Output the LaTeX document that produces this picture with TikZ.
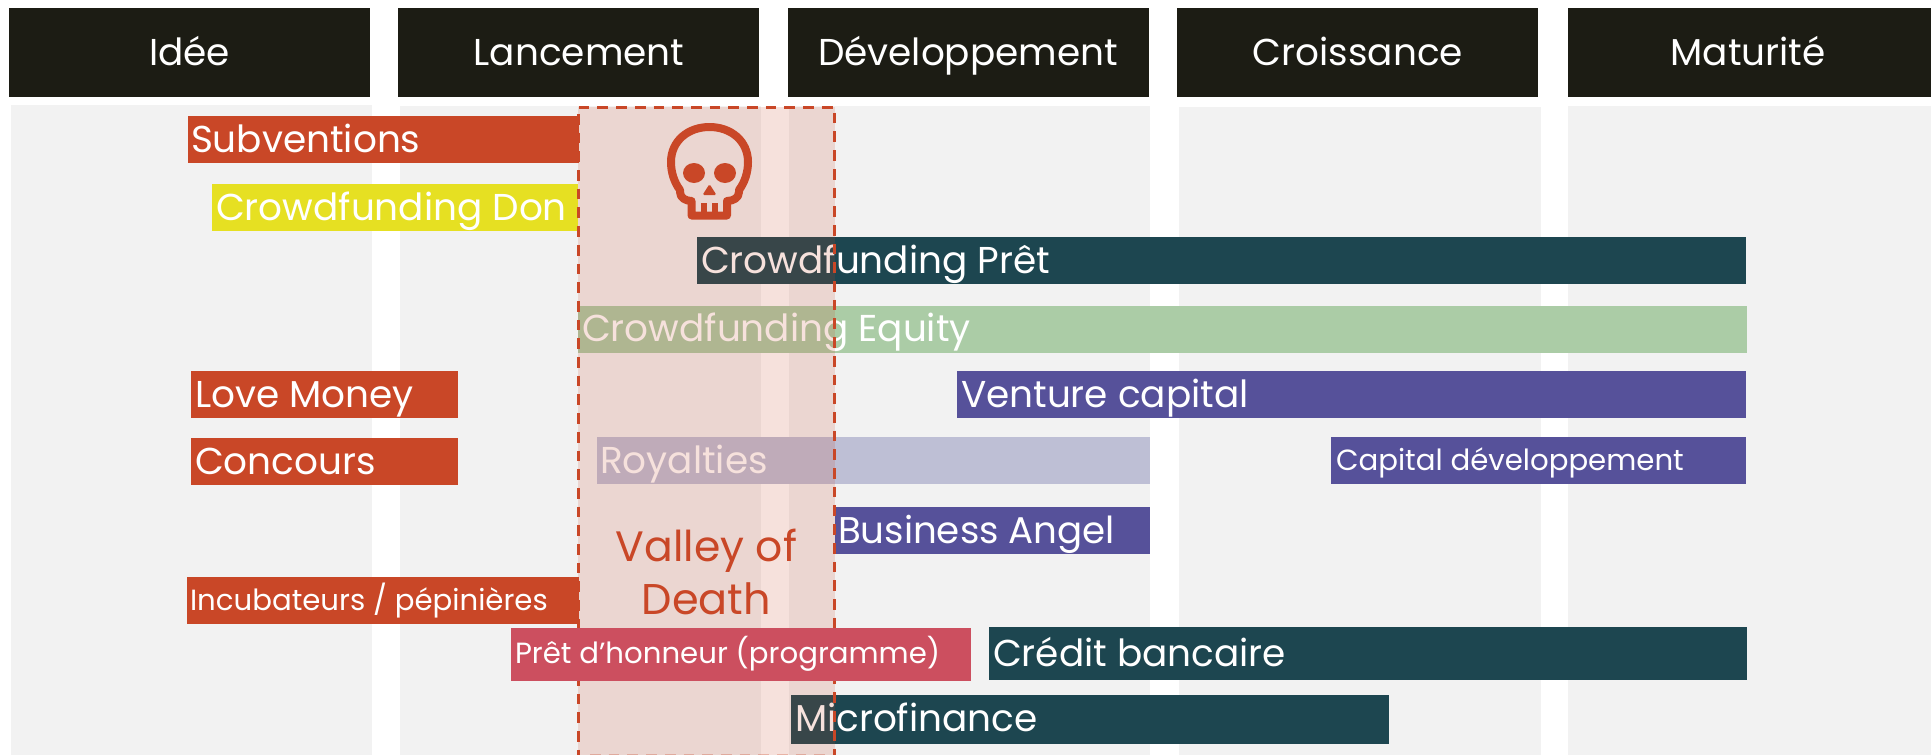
\documentclass[tikz,border=0pt]{standalone}
\usepackage{fontspec}
\setmainfont{Poppins}
\definecolor{hdr}{HTML}{1C1C14}
\definecolor{col}{HTML}{F2F2F2}
\definecolor{rust}{HTML}{C94727}
\definecolor{yel}{HTML}{E6E022}
\definecolor{teal}{HTML}{1D4650}
\definecolor{gren}{HTML}{ABCCA6}
\definecolor{purp}{HTML}{56519A}
\definecolor{lila}{HTML}{BEBFD5}
\definecolor{rosy}{HTML}{CC4F5F}
\tikzset{
  boxn/.style={rectangle,inner sep=0pt,outer sep=0pt,draw=none,anchor=north west},
  lab/.style={inner sep=0pt,outer sep=0pt,text=white,anchor=base west},
  hlab/.style={inner sep=0pt,outer sep=0pt,text=white,anchor=base},
  vdash/.style={rust,line width=3pt,dash pattern=on 10.7pt off 8pt},
}
\newcommand{\fsz}[1]{\fontsize{#1}{#1}\selectfont}
\newcommand{\boxx}[6]{% name x1 y1 x2 y2 colour
  \pgfmathsetmacro{\bw}{#4-#2}\pgfmathsetmacro{\bh}{#5-#3}
  \node[boxn,fill=#6,minimum width=\bw pt,minimum height=\bh pt] (#1) at (#2,#3) {};}
\begin{document}
\begin{tikzpicture}[x=1pt,y=-1pt]
\useasboundingbox (0,0) rectangle (1931,755);
% columns
\boxx{c1}{11}{105}{372}{755}{col}
\boxx{c2}{400}{106}{761}{755}{col}
\boxx{c3}{789}{106}{1150}{755}{col}
\boxx{c4}{1179}{107}{1541}{755}{col}
\boxx{c5}{1568}{106}{1931}{755}{col}
% headers
\boxx{h1}{9}{8}{370}{97}{hdr}
\boxx{h2}{398}{8}{759}{97}{hdr}
\boxx{h3}{788}{8}{1149}{97}{hdr}
\boxx{h4}{1177}{8}{1538}{97}{hdr}
\boxx{h5}{1568}{8}{1931}{97}{hdr}
\node[hlab] (th1) at (189.5,65) {\fsz{37.4}Idée};
\node[hlab] (th2) at (579,65) {\fsz{37.4}Lancement};
\node[hlab] (th3) at (968,65) {\fsz{37.4}Développement};
\node[hlab] (th4) at (1358,65) {\fsz{37.4}Croissance};
\node[hlab] (th5) at (1748,65) {\fsz{37.4}Maturité};
% bars under the valley
\boxx{bp}{697}{237}{1746}{284}{teal}
\node[lab] (tp) at (701,273) {\fsz{37.4}Crowdfunding Prêt};
\boxx{be}{578}{306}{1747}{353}{gren}
\node[lab] (te) at (582,341) {\fsz{37.4}Crowdfunding Equity};
\boxx{br}{597}{437}{1150}{484}{lila}
\node[lab] (tr) at (600,473) {\fsz{37.4}Royalties};
\boxx{bm}{791}{695}{1389}{744}{teal}
\node[lab] (tm) at (795,731) {\fsz{37.4}Microfinance};
% bars that stop at the valley's edge
\boxx{bs}{188}{116}{579}{163}{rust}
\node[lab] (ts) at (191,152) {\fsz{37.4}Subventions};
\boxx{bd}{212}{184}{578}{231}{yel}
\node[lab] (td) at (216,220) {\fsz{37.4}Crowdfunding Don};
\boxx{bi}{187}{577}{579}{624}{rust}
\node[lab] (ti) at (190,610) {\fsz{29.2}Incubateurs / pépinières};
\boxx{ba}{835}{507}{1150}{554}{purp}
\node[lab] (ta) at (838,543) {\fsz{37.2}Business Angel};
% valley
\fill[rust,opacity=.16] (578,107) rectangle (835,755);
\draw[vdash] (578.7,107.3) -- (835,107.3);
\draw[vdash] (578.7,113.9) -- (578.7,755);
\draw[vdash] (834.7,112.7) -- (834.7,755);
\draw[rust,opacity=.3,line width=1.2pt,dash pattern=on 10.7pt off 8pt] (590,754.4) -- (828,754.4);
% skull
\begin{scope}[rust]
\draw[line width=8pt,line join=round]
  (680,190) .. controls (674,182) and (671,172) .. (671,162)
  .. controls (671,141) and (688,127) .. (709.5,127)
  .. controls (731,127) and (748,141) .. (748,162)
  .. controls (748,172) and (745,182) .. (739,190)
  -- (739,192) .. controls (739,198) and (733,201) .. (727,201)
  -- (727,215.5) -- (691.5,215.5) -- (691.5,201)
  .. controls (686,201) and (680,198) .. (680,192) -- cycle;
\fill (694,173) ellipse [x radius=11,y radius=10];
\fill (725,173) ellipse [x radius=11,y radius=10];
\fill[rounded corners=1.5pt] (709.5,184) -- (716.5,195) -- (702.5,195) -- cycle;
\fill (701,203) rectangle (706.5,216);
\fill (712,203) rectangle (718,216);
\end{scope}
% bars on top
\boxx{bl}{191}{371}{458}{418}{rust}
\node[lab] (tl) at (195,407) {\fsz{37.4}Love Money};
\boxx{bc}{191}{438}{458}{485}{rust}
\node[lab] (tc) at (195,474) {\fsz{37.4}Concours};
\boxx{bv}{957}{371}{1746}{418}{purp}
\node[lab] (tv) at (961,407) {\fsz{37.4}Venture capital};
\boxx{bk}{1331}{437}{1746}{484}{purp}
\node[lab] (tk) at (1336,470) {\fsz{29.2}Capital développement};
\boxx{bh}{511}{628}{971}{681}{rosy}
\node[lab] (th) at (515,663) {\fsz{29.2}Prêt d{\char"27}honneur (programme)};
\boxx{bb}{989}{627}{1747}{680}{teal}
\node[lab] (tb) at (993,666) {\fsz{37.4}Crédit bancaire};
\node[hlab,text=rust] (v1) at (706.5,561) {\fsz{42.5}Valley of};
\node[hlab,text=rust] (v2) at (706.5,614) {\fsz{43}Death};
\end{tikzpicture}
\end{document}
